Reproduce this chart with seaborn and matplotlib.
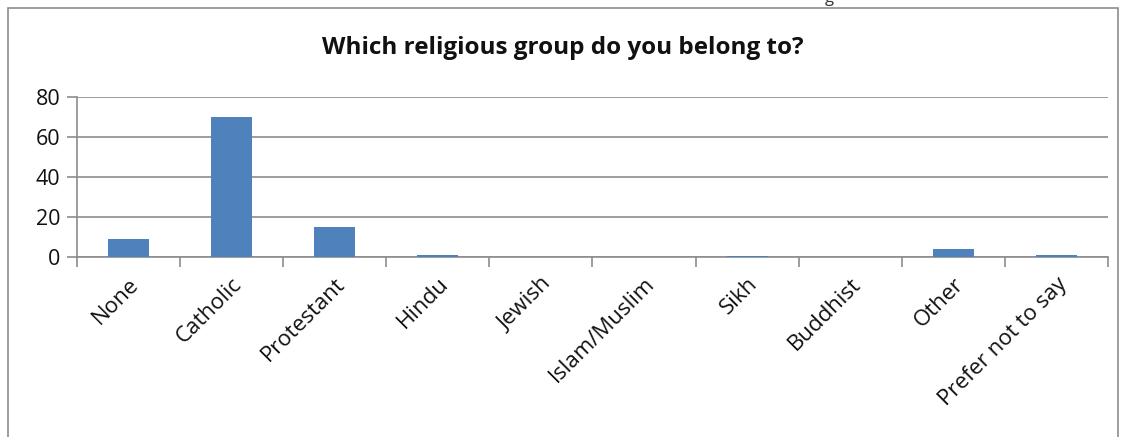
import matplotlib
matplotlib.use("Agg")
import matplotlib.pyplot as plt
import seaborn as sns
import pandas as pd
from matplotlib.patches import Rectangle

categories = ["None", "Catholic", "Protestant", "Hindu", "Jewish", "Islam/Muslim",
              "Sikh", "Buddhist", "Other", "Prefer not to say"]
values = [9, 70, 15, 1, 0, 0, 0.3, 0, 4, 1]
yticks = [0, 20, 40, 60, 80]
title = "Which religious group do you belong to?"

sns.set_theme(style="white")
plt.rcParams['font.family'] = ['Open Sans', 'DejaVu Sans']

df = pd.DataFrame({"cat": categories, "val": values})

fig = plt.figure(figsize=(11.25, 4.37), dpi=100)
ax = fig.add_axes([0.0684, 0.412, 0.9165, 0.366])

sns.barplot(data=df, x="cat", y="val", color="#4F81BD", width=0.4,
            saturation=1, ax=ax, zorder=3, linewidth=0)

grid_c = "#8C8C8C"
ax.set_ylim(0, 80)
ax.set_xlim(-0.5, len(categories) - 0.5)
ax.set_yticks(yticks)
ax.set_yticklabels([str(t) for t in yticks], fontsize=15.5, color="#111111")
ax.yaxis.grid(True, color=grid_c, linewidth=1.2, zorder=0)
ax.tick_params(axis='y', which='major', length=7, color=grid_c, width=1.2, pad=5, left=True)
ax.set_xticks(range(len(categories)))
ax.set_xticklabels(categories, rotation=45, ha='right', rotation_mode='anchor',
                   fontsize=16, color="#111111")
ax.tick_params(axis='x', which='major', length=0, pad=12)
ax.set_xticks([i - 0.5 for i in range(len(categories) + 1)], minor=True)
ax.tick_params(axis='x', which='minor', length=7, color=grid_c, width=1.2, bottom=True)
ax.set_xlabel("")
ax.set_ylabel("")
for s in ["top", "right"]:
    ax.spines[s].set_visible(False)
for s in ["left", "bottom"]:
    ax.spines[s].set_color(grid_c)
    ax.spines[s].set_linewidth(1.2)

fig.text(0.5005, 0.89, title, ha='center', va='center', fontsize=17.5,
         fontweight='bold', color="#111111")
fig.text(0.737, 1.005, "g", ha='center', va='center', fontsize=12, color="#333333")

fig.patches.append(Rectangle((8 / 1125, -0.05), (1118 - 8) / 1125, 1 - 8 / 437 + 0.05,
                             transform=fig.transFigure, fill=False,
                             edgecolor="#8C8C8C", linewidth=1.2))

fig.savefig("out.png", dpi=100)
